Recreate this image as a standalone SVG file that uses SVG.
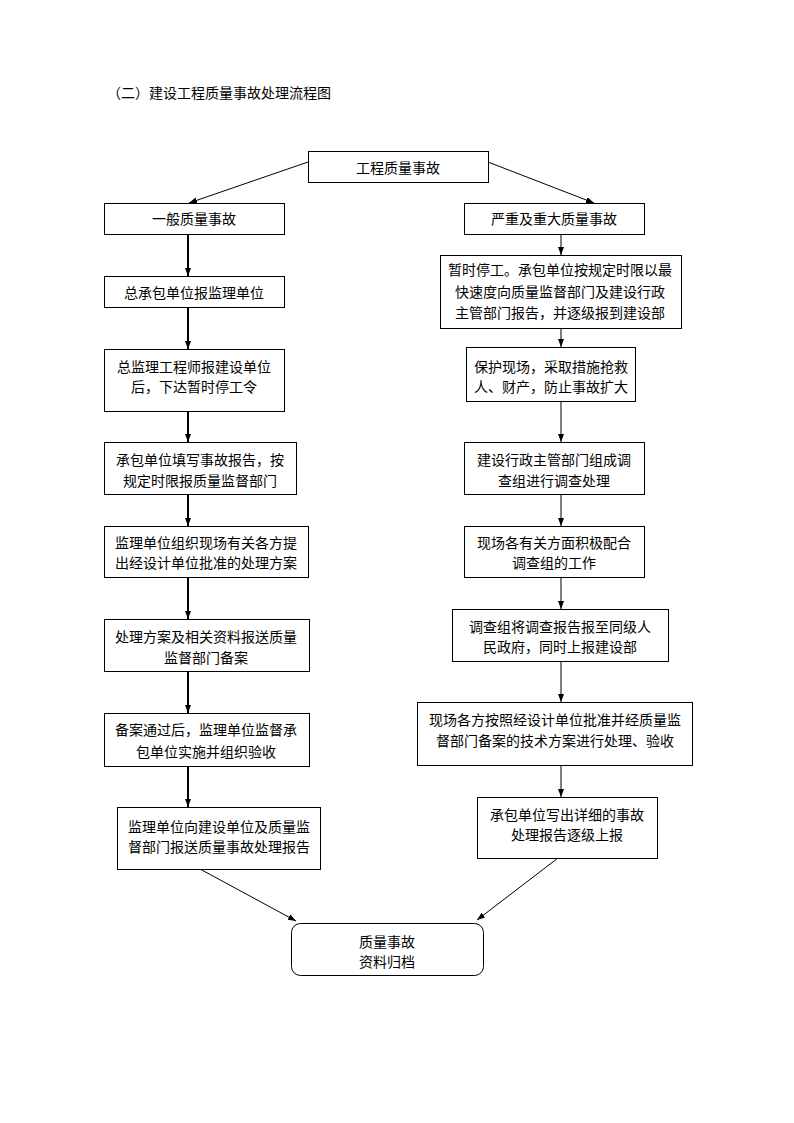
<svg xmlns="http://www.w3.org/2000/svg" width="794" height="1123" viewBox="0 0 794 1123">
<style>
  .box{fill:#fff;stroke:#000;stroke-width:1}
  text{font-family:"Liberation Sans","Noto Sans CJK SC",sans-serif;font-size:14px;fill:#000;text-anchor:middle}
  .title{text-anchor:start}
  .thick{stroke:#000;stroke-width:2;fill:none}
  .thin{stroke:#000;stroke-width:1;fill:none}
</style>
<defs>
  <marker id="ah" markerUnits="userSpaceOnUse" markerWidth="8" markerHeight="8" viewBox="0 0 8 8" refX="8" refY="4" orient="auto">
    <path d="M0,1 L8,4 L0,7 Z" fill="#000"/>
  </marker>
</defs>
<rect width="794" height="1123" fill="#fff"/>
<text class="title" x="107" y="98">（二）建设工程质量事故处理流程图</text>

<g id="connectors">
  <line class="thin" x1="308" y1="162" x2="189" y2="203" marker-end="url(#ah)"/>
  <line class="thin" x1="488" y1="162" x2="594" y2="203" marker-end="url(#ah)"/>
  <line class="thick" x1="188" y1="234" x2="188" y2="276" marker-end="url(#ah)"/>
  <line class="thick" x1="188" y1="307" x2="188" y2="349" marker-end="url(#ah)"/>
  <line class="thick" x1="188" y1="411" x2="188" y2="442" marker-end="url(#ah)"/>
  <line class="thick" x1="188" y1="494" x2="188" y2="526" marker-end="url(#ah)"/>
  <line class="thick" x1="188" y1="577" x2="188" y2="619" marker-end="url(#ah)"/>
  <line class="thick" x1="188" y1="671" x2="188" y2="713" marker-end="url(#ah)"/>
  <line class="thick" x1="188" y1="766" x2="188" y2="807" marker-end="url(#ah)"/>
  <line class="thin" x1="561" y1="234" x2="561" y2="255" marker-end="url(#ah)"/>
  <line class="thin" x1="561" y1="328" x2="561" y2="347" marker-end="url(#ah)"/>
  <line class="thin" x1="561" y1="401" x2="561" y2="442" marker-end="url(#ah)"/>
  <line class="thin" x1="561" y1="494" x2="561" y2="526" marker-end="url(#ah)"/>
  <line class="thin" x1="561" y1="577" x2="561" y2="609" marker-end="url(#ah)"/>
  <line class="thin" x1="561" y1="661" x2="561" y2="702" marker-end="url(#ah)"/>
  <line class="thin" x1="561" y1="765" x2="561" y2="797" marker-end="url(#ah)"/>
  <line class="thin" x1="200" y1="869" x2="296" y2="921" marker-end="url(#ah)"/>
  <line class="thin" x1="558" y1="858" x2="477" y2="920" marker-end="url(#ah)"/>
</g>

<g id="n-top"><rect class="box" x="308.5" y="151.5" width="180" height="31"/><text x="398" y="173">工程质量事故</text></g>

<g id="n-l1"><rect class="box" x="104.5" y="203.5" width="180" height="31"/><text x="194" y="224">一般质量事故</text></g>
<g id="n-l2"><rect class="box" x="104.5" y="276.5" width="180" height="31"/><text x="194" y="298">总承包单位报监理单位</text></g>
<g id="n-l3"><rect class="box" x="104.5" y="349.5" width="180" height="62"/><text x="194" y="372">总监理工程师报建设单位</text><text x="194" y="392">后，下达暂时停工令</text></g>
<g id="n-l4"><rect class="box" x="104.5" y="442.5" width="192" height="52"/><text x="200" y="465">承包单位填写事故报告，按</text><text x="200" y="486">规定时限报质量监督部门</text></g>
<g id="n-l5"><rect class="box" x="104.5" y="526.5" width="204" height="51"/><text x="206" y="548">监理单位组织现场有关各方提</text><text x="206" y="568">出经设计单位批准的处理方案</text></g>
<g id="n-l6"><rect class="box" x="104.5" y="619.5" width="205" height="52"/><text x="206" y="642">处理方案及相关资料报送质量</text><text x="206" y="663">监督部门备案</text></g>
<g id="n-l7"><rect class="box" x="104.5" y="713.5" width="205" height="53"/><text x="206" y="735">备案通过后，监理单位监督承</text><text x="206" y="757">包单位实施并组织验收</text></g>
<g id="n-l8"><rect class="box" x="117.5" y="807.5" width="203" height="62"/><text x="219" y="832">监理单位向建设单位及质量监</text><text x="219" y="852">督部门报送质量事故处理报告</text></g>

<g id="n-r1"><rect class="box" x="464.5" y="203.5" width="180" height="31"/><text x="554" y="224">严重及重大质量事故</text></g>
<g id="n-r2"><rect class="box" x="440.5" y="255.5" width="241" height="73"/><text x="560" y="275">暂时停工。承包单位按规定时限以最</text><text x="560" y="297">快速度向质量监督部门及建设行政</text><text x="560" y="318">主管部门报告，并逐级报到建设部</text></g>
<g id="n-r3"><rect class="box" x="466.5" y="347.5" width="169" height="54"/><text x="551" y="372">保护现场，采取措施抢救</text><text x="551" y="392">人、财产，防止事故扩大</text></g>
<g id="n-r4"><rect class="box" x="464.5" y="442.5" width="180" height="52"/><text x="554" y="465">建设行政主管部门组成调</text><text x="554" y="486">查组进行调查处理</text></g>
<g id="n-r5"><rect class="box" x="464.5" y="526.5" width="180" height="51"/><text x="554" y="548">现场各有关方面积极配合</text><text x="554" y="568">调查组的工作</text></g>
<g id="n-r6"><rect class="box" x="452.5" y="609.5" width="216" height="52"/><text x="560" y="632">调查组将调查报告报至同级人</text><text x="560" y="652">民政府，同时上报建设部</text></g>
<g id="n-r7"><rect class="box" x="417.5" y="702.5" width="275" height="63"/><text x="555" y="725">现场各方按照经设计单位批准并经质量监</text><text x="555" y="746">督部门备案的技术方案进行处理、验收</text></g>
<g id="n-r8"><rect class="box" x="477.5" y="797.5" width="180" height="61"/><text x="567" y="820">承包单位写出详细的事故</text><text x="567" y="840">处理报告逐级上报</text></g>

<g id="n-end"><rect class="box" x="291.5" y="923.5" width="192" height="52" rx="9" ry="9"/><text x="387" y="947">质量事故</text><text x="387" y="967">资料归档</text></g>
</svg>
